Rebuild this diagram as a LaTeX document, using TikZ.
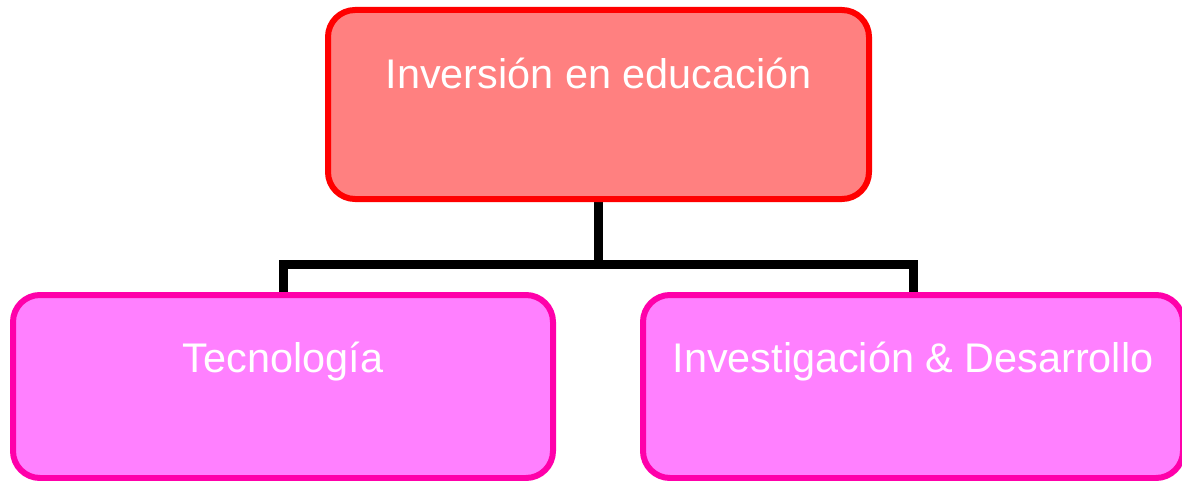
\documentclass[tikz,border=0pt]{standalone}
\usepackage{fontspec}
\setmainfont{Liberation Sans}
\usetikzlibrary{backgrounds}

\definecolor{topfill}{HTML}{FF8080}
\definecolor{topline}{HTML}{FF0000}
\definecolor{subfill}{HTML}{FF80FF}
\definecolor{subline}{HTML}{FF00AA}

\tikzset{
    topbox/.style={draw=topline, fill=topfill, line width=3pt, rounded corners=13.5pt,
        minimum width=270.5pt, minimum height=94.5pt},
    subbox/.style={draw=subline, fill=subfill, line width=3pt, rounded corners=13.5pt,
        minimum width=270pt, minimum height=91.5pt},
    boxtext/.style={text=white, anchor=base, inner sep=0pt,
        font=\fontsize{20.7pt}{24pt}\selectfont},
    bus/.style={line width=4.5pt, black}
}

\begin{document}
\begin{tikzpicture}[x=0.5pt, y=-0.5pt]
    \useasboundingbox (0,0) rectangle (1182,481);
    \node[topbox] (edu) at (598.5,104.5) {};
    \node[subbox] (tec) at (283,386.5) {};
    \node[subbox] (inv) at (913,386.5) {};
    \node[boxtext] (edutxt) at ([yshift=-41pt]edu.north) {Inversión en educación};
    \node[boxtext] (tectxt) at ([yshift=-40pt]tec.north) {Tecnología};
    \node[boxtext] (invtxt) at ([yshift=-40pt]inv.north) {Investigación \& Desarrollo};
    \coordinate (split) at (598.5,264);
\begin{pgfonlayer}{background}
    \draw[bus] (edu.south) -- (split);
    \draw[bus] (tec.north) |- (split) -| (inv.north);
\end{pgfonlayer}
\end{tikzpicture}
\end{document}
